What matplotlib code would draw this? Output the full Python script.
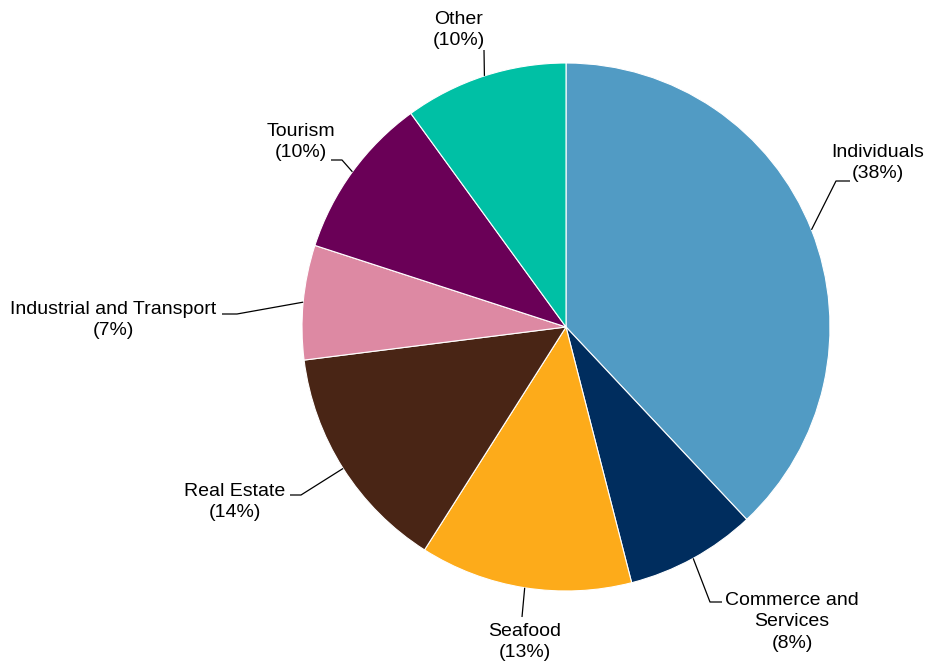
import numpy as np
import matplotlib
matplotlib.use("Agg")
import matplotlib.pyplot as plt

plt.rcParams['font.family'] = ['Liberation Sans', 'DejaVu Sans']

# Data
categories = ["Individuals", "Commerce and\nServices", "Seafood", "Real Estate",
              "Industrial and Transport", "Tourism", "Other"]
shares = [38, 8, 13, 14, 7, 10, 10]
colors = ["#519BC4", "#002D5E", "#FDAB1A", "#492515", "#DD89A3", "#6A0057", "#00C0A5"]

# Layout in pixel coordinates (y measured from top of image)
W, H = 927, 662
cx, cy, R = 566, 327, 264
# (elbow x, elbow y, line end x, text x, text y)
label_layout = [
    (836, 181, 850, 878, 163),
    (710, 602, 722, 792, 622),
    (522, 617, 522, 525, 642),
    (301, 495, 290, 235, 502),
    (237, 314, 222, 113, 320),
    (342, 160, 331, 301, 142),
    (484, 50, 484, 459, 30),
]

fig = plt.figure(figsize=(W / 100, H / 100), dpi=100)
ax = fig.add_axes([0, 0, 1, 1])

wedges, _ = ax.pie(shares, colors=colors, startangle=90, counterclock=False,
                   center=(cx, H - cy), radius=R,
                   wedgeprops=dict(edgecolor='white', linewidth=0.8))

# pie() resets the limits, so set the pixel frame afterwards
ax.set_xlim(0, W)
ax.set_ylim(0, H)
ax.set_aspect('equal')
ax.axis('off')

for w, name, pct, (ex, ey, lx, tx, ty) in zip(wedges, categories, shares, label_layout):
    ang = np.deg2rad((w.theta1 + w.theta2) / 2)
    px = cx + R * np.cos(ang)
    py = H - cy + R * np.sin(ang)
    ax.plot([px, ex, lx], [py, H - ey, H - ey], color='black', linewidth=0.9,
            solid_capstyle='butt')
    ax.text(tx, H - ty, f"{name}\n({pct}%)", ha='center', va='center',
            fontsize=14, linespacing=1.35, color='black')

fig.savefig("out.png", dpi=100)
